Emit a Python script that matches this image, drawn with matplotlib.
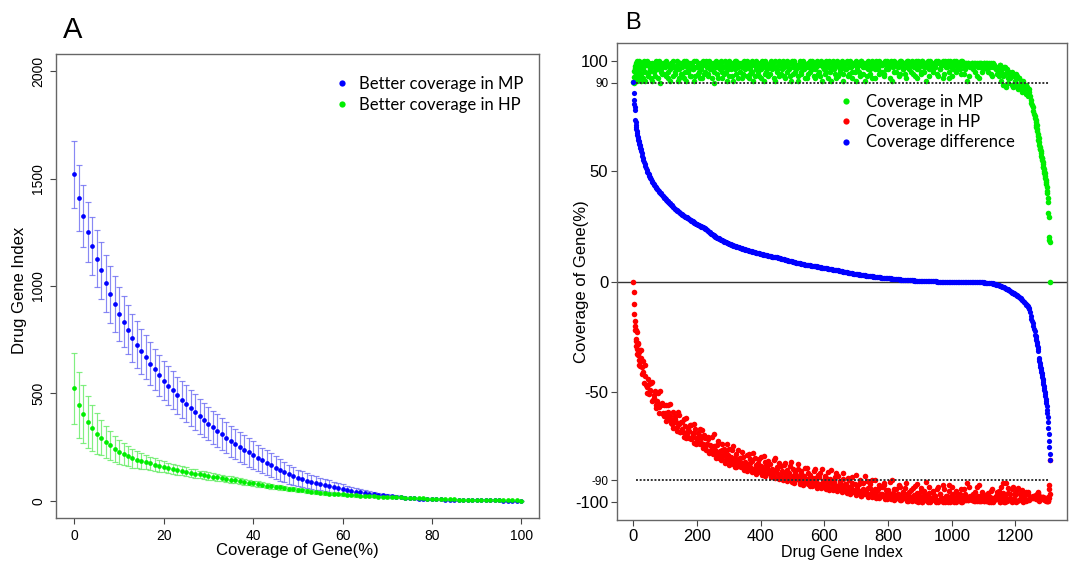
import numpy as np
import matplotlib
matplotlib.use("Agg")
import matplotlib.pyplot as plt
from matplotlib.lines import Line2D

plt.rcParams['font.family'] = ['Liberation Sans', 'DejaVu Sans']

# ============================================================
# Panel A: drug genes with better coverage, per coverage cut-off
# ============================================================
coverage_cut = list(range(0, 101))

mp_better_mean = [
    1520, 1410, 1325, 1250, 1186, 1128, 1073, 1012, 961, 915,
    871, 834, 797, 759, 727, 696, 668, 638, 612, 584,
    559, 536, 514, 491, 471, 452, 433, 413, 393, 376,
    359, 342, 326, 311, 294, 278, 264, 250, 238, 225,
    213, 200, 188, 177, 166, 155, 144, 135, 124, 115,
    106, 100, 94, 88, 83, 78, 73, 68, 63, 58,
    54, 50, 46, 42, 39, 36, 33, 30, 28, 25,
    23, 21, 19, 17, 14, 12, 11, 10, 9, 8,
    8, 7, 7, 6, 6, 5, 5, 5, 4, 4,
    3, 3, 3, 2, 2, 2, 1, 1, 1, 1, 0]
mp_better_sd = [
    155, 153, 145, 140, 137, 134, 133, 133, 132, 130,
    125, 120, 115, 112, 108, 105, 102, 99, 97, 94,
    92, 90, 88, 87, 86, 85, 83, 82, 80, 79,
    78, 77, 76, 75, 73, 72, 70, 69, 67, 66,
    64, 62, 60, 58, 56, 53, 50, 47, 45, 42,
    39, 37, 35, 33, 31, 30, 28, 27, 25, 24,
    22, 20, 19, 17, 16, 14, 13, 12, 10, 9,
    8, 7, 7, 6, 5, 5, 4, 4, 3, 3,
    3, 2, 2, 2, 2, 2, 1, 1, 1, 1,
    1, 1, 1, 1, 0, 0, 0, 0, 0, 0, 0]
hp_better_mean = [
    523, 446, 404, 367, 339, 312, 294, 273, 258, 242,
    228, 217, 208, 199, 191, 185, 179, 174, 169, 163,
    158, 153, 149, 145, 140, 135, 130, 127, 123, 119,
    115, 112, 109, 106, 102, 99, 95, 92, 88, 85,
    81, 78, 75, 71, 68, 65, 62, 59, 56, 53,
    51, 48, 45, 42, 40, 37, 36, 34, 33, 31,
    30, 28, 27, 25, 24, 23, 22, 21, 20, 20,
    19, 18, 17, 16, 15, 14, 13, 12, 11, 10,
    9, 9, 8, 8, 7, 7, 6, 6, 6, 5,
    5, 5, 4, 4, 4, 3, 3, 2, 2, 2, 1]
hp_better_sd = [
    165, 155, 137, 119, 105, 96, 82, 75, 68, 62,
    56, 52, 48, 44, 40, 36, 33, 31, 29, 27,
    26, 25, 24, 23, 22, 21, 20, 19, 18, 18,
    17, 17, 16, 16, 15, 15, 14, 14, 13, 13,
    12, 12, 11, 11, 11, 10, 10, 10, 9, 9,
    8, 8, 8, 7, 7, 7, 7, 6, 6, 6,
    6, 5, 5, 5, 5, 4, 4, 4, 4, 4,
    4, 3, 3, 3, 3, 3, 2, 2, 2, 2,
    2, 2, 2, 1, 1, 1, 1, 1, 1, 1,
    1, 1, 1, 1, 0, 0, 0, 0, 0, 0, 0]

# ============================================================
# Panel B: per-gene coverage, genes sorted by coverage difference
# (two sampled batches of genes read off the figure)
# ============================================================
# ---- batch 1
gene_index_1 = np.concatenate([np.arange(0, 24), np.arange(24, 1261, 4),
                               np.arange(1262, 1309)])

cov_mp_1 = [
    # 0-23
    90.5, 90.0, 92.4, 95.2, 96.5, 97.5, 95.0, 98, 93, 99, 96, 91,
    100, 97, 94, 98, 92, 99, 95, 100, 93, 97, 99, 91,
    # 24-1260, every 4th gene
    94, 99, 96, 91, 98, 100, 95, 97, 92, 99,
    97, 93, 100, 96, 98, 90, 95, 99, 94, 97,
    100, 92, 98, 96, 99, 93, 97, 95, 100, 91,
    96, 99, 94, 98, 92, 100, 97, 95, 99, 93,
    98, 96, 91, 100, 97, 94, 99, 96, 92, 98,
    95, 100, 97, 93, 99, 96, 98, 90, 97, 100,
    94, 98, 96, 99, 92, 97, 100, 95, 98, 93,
    99, 96, 91, 98, 100, 94, 97, 99, 95, 92,
    98, 100, 96, 93, 99, 97, 94, 100, 91, 98,
    96, 99, 95, 98, 92, 100, 97, 94, 99, 96,
    93, 98, 100, 96, 99, 91, 97, 95, 100, 98,
    94, 99, 97, 92, 98, 100, 96, 93, 99, 97,
    100, 95, 98, 91, 97, 99, 94, 100, 96, 98,
    92, 99, 97, 95, 100, 98, 93, 96, 99, 94,
    98, 100, 91, 97, 99, 95, 98, 92, 100, 96,
    97, 99, 94, 98, 100, 93, 96, 99, 97, 91,
    99, 96, 100, 94, 98, 97, 92, 99, 95, 100,
    96, 98, 93, 100, 97, 99, 91, 98, 96, 99,
    94, 100, 97, 98, 92, 99, 96, 100, 95, 98,
    99, 93, 98, 100, 96, 97, 99, 91, 98, 100,
    95, 99, 97, 94, 100, 98, 96, 99, 92, 97,
    100, 98, 95, 99, 97, 93, 100, 96, 98, 99,
    94, 100, 97, 99, 91, 98, 96, 100, 99, 95,
    98, 97, 100, 93, 99, 96, 98, 100, 94, 99,
    97, 100, 92, 98, 99, 96, 100, 95, 98, 97,
    99, 94, 100, 98, 96, 99, 91, 99, 97, 98,
    99, 96, 99, 98, 93, 99, 97, 99, 95, 99,
    98, 99, 96, 99, 97, 94, 99, 98, 97, 96,
    97, 93, 98, 95, 89, 97, 94, 96, 90, 95,
    92, 95, 88, 94, 91, 93, 87, 92, 90, 86,
    91, 88, 85, 88, 84, 86, 82, 80, 77, 75,
    # 1262-1308
    74, 72, 73, 71, 70, 71, 68, 69, 66, 67, 64, 65, 62, 63, 61, 60,
    60, 59, 58, 57, 56, 56, 55, 54, 53, 52, 52, 51, 50, 49, 49, 48,
    47, 46, 45, 44, 43, 41, 40, 38, 36, 31, 29, 20, 19, 18, 0]

cov_hp_1 = [
    # 0-23
    0.0, 4.8, 10.1, 14.7, 17.7, 20.0, 22.0, 26.0, 22.0, 29.0, 27.0, 22.9,
    32.8, 30.6, 28.4, 33.1, 27.8, 35.4, 32.0, 37.6, 31.2, 35.8, 38.4, 31.0,
    # 24-1260, every 4th gene
    34.7, 42.0, 41.0, 38.0, 46.8, 50.4, 46.5, 49.6, 45.8, 54.0,
    52.9, 49.7, 57.5, 54.3, 57.0, 49.7, 55.4, 60.1, 55.8, 59.4,
    63.0, 55.7, 62.3, 60.9, 64.5, 59.1, 63.7, 62.2, 67.7, 59.2,
    64.7, 68.2, 63.6, 68.0, 62.4, 70.7, 68.0, 66.4, 70.8, 65.2,
    70.6, 69.0, 64.4, 73.8, 71.1, 68.4, 73.7, 71.0, 67.2, 73.5,
    70.9, 76.3, 73.8, 70.3, 76.8, 74.3, 76.7, 69.1, 76.5, 79.9,
    74.2, 78.5, 76.8, 80.1, 73.4, 78.7, 82.0, 77.3, 80.5, 75.8,
    82.0, 79.3, 74.5, 81.8, 84.0, 78.2, 81.4, 83.6, 79.8, 77.0,
    83.2, 85.4, 81.6, 78.7, 84.9, 83.1, 80.2, 86.4, 77.6, 84.7,
    82.9, 86.0, 82.2, 85.3, 79.5, 87.6, 84.8, 81.9, 87.1, 84.2,
    81.4, 86.5, 88.6, 84.7, 87.8, 79.9, 86.0, 84.1, 89.3, 87.4,
    83.6, 88.8, 86.9, 82.1, 88.2, 90.4, 86.5, 83.7, 89.8, 88.0,
    91.1, 86.3, 89.4, 82.6, 88.7, 90.8, 86.0, 92.1, 88.2, 90.3,
    84.4, 91.5, 89.6, 87.7, 92.8, 90.9, 86.0, 89.1, 92.2, 87.4,
    91.5, 93.6, 84.7, 90.8, 92.9, 89.0, 92.1, 86.2, 94.3, 90.4,
    91.5, 93.6, 88.7, 92.8, 94.9, 88.0, 91.1, 94.2, 92.4, 86.5,
    94.7, 91.8, 95.9, 90.0, 94.1, 93.2, 88.3, 95.4, 91.5, 96.6,
    92.7, 94.8, 89.9, 97.0, 94.1, 96.2, 88.2, 95.3, 93.4, 96.5,
    91.5, 97.6, 94.7, 95.8, 89.8, 96.9, 94.0, 98.0, 93.1, 96.2,
    97.2, 91.3, 96.4, 98.4, 94.5, 95.6, 97.6, 89.7, 96.7, 98.8,
    93.9, 97.9, 96.0, 93.0, 99.1, 97.1, 95.2, 98.2, 91.3, 96.3,
    99.4, 97.4, 94.5, 98.5, 96.5, 92.6, 99.6, 95.6, 97.7, 98.7,
    93.7, 99.7, 96.8, 98.8, 90.8, 97.8, 95.8, 99.9, 98.9, 94.9,
    97.9, 96.9, 99.9, 93.0, 99.0, 96.0, 98.0, 100.0, 94.0, 99.0,
    97.0, 100.0, 92.0, 98.0, 99.0, 96.0, 100.0, 95.0, 98.0, 97.0,
    99.0, 94.0, 100.0, 98.0, 96.0, 99.1, 91.1, 99.1, 97.1, 98.1,
    99.1, 96.1, 99.2, 98.2, 93.2, 99.2, 97.3, 99.3, 95.4, 99.4,
    98.5, 99.5, 96.6, 99.7, 97.7, 94.8, 99.9, 99.0, 98.2, 97.4,
    98.6, 94.8, 100.0, 97.2, 91.4, 99.7, 97.0, 99.3, 93.6, 99.0,
    96.4, 99.8, 93.1, 99.5, 96.8, 99.2, 93.6, 99.0, 97.6, 94.2,
    99.8, 97.4, 95.1, 98.8, 95.5, 98.5, 97.5, 98.0, 97.0, 97.5,
    # 1262-1308
    98.0, 96.6, 98.3, 97.0, 96.7, 98.4, 96.0, 97.8, 95.6, 97.4, 95.3, 99.5,
    97.3, 99.1, 97.9, 97.7, 98.5, 98.2, 98.0, 97.8, 97.5, 98.3, 98.1, 98.0,
    97.8, 97.7, 98.5, 98.4, 98.3, 98.2, 99.1, 99.0, 99.0, 99.0, 99.0, 99.2,
    99.5, 99.0, 99.5, 99.5, 99.5, 97.5, 98.0, 92.0, 94.0, 96.0, 81.0]

cov_diff_1 = [
    # 0-23
    90.5, 85.2, 82.3, 80.5, 78.8, 77.5, 73.0, 72.0, 71.0, 70.0, 69.0, 68.1,
    67.2, 66.4, 65.6, 64.9, 64.2, 63.6, 63.0, 62.4, 61.8, 61.2, 60.6, 60.0,
    # 24-1260, every 4th gene
    59.3, 57.0, 55.0, 53.0, 51.2, 49.6, 48.5, 47.4, 46.2, 45.0,
    44.1, 43.3, 42.5, 41.7, 41.0, 40.3, 39.6, 38.9, 38.2, 37.6,
    37.0, 36.3, 35.7, 35.1, 34.5, 33.9, 33.3, 32.8, 32.3, 31.8,
    31.3, 30.8, 30.4, 30.0, 29.6, 29.3, 29.0, 28.6, 28.2, 27.8,
    27.4, 27.0, 26.6, 26.2, 25.9, 25.6, 25.3, 25.0, 24.8, 24.5,
    24.1, 23.7, 23.2, 22.7, 22.2, 21.7, 21.3, 20.9, 20.5, 20.1,
    19.8, 19.5, 19.2, 18.9, 18.6, 18.3, 18.0, 17.7, 17.5, 17.2,
    17.0, 16.7, 16.5, 16.2, 16.0, 15.8, 15.6, 15.4, 15.2, 15.0,
    14.8, 14.6, 14.4, 14.3, 14.1, 13.9, 13.8, 13.6, 13.4, 13.3,
    13.1, 13.0, 12.8, 12.7, 12.5, 12.4, 12.2, 12.1, 11.9, 11.8,
    11.6, 11.5, 11.4, 11.3, 11.2, 11.1, 11.0, 10.9, 10.7, 10.6,
    10.4, 10.2, 10.1, 9.9, 9.8, 9.6, 9.5, 9.3, 9.2, 9.0,
    8.9, 8.7, 8.6, 8.4, 8.3, 8.2, 8.0, 7.9, 7.8, 7.7,
    7.6, 7.5, 7.4, 7.3, 7.2, 7.1, 7.0, 6.9, 6.8, 6.6,
    6.5, 6.4, 6.3, 6.2, 6.1, 6.0, 5.9, 5.8, 5.7, 5.6,
    5.5, 5.4, 5.3, 5.2, 5.1, 5.0, 4.9, 4.8, 4.6, 4.5,
    4.3, 4.2, 4.1, 4.0, 3.9, 3.8, 3.7, 3.6, 3.5, 3.4,
    3.3, 3.2, 3.1, 3.0, 2.9, 2.8, 2.8, 2.7, 2.6, 2.5,
    2.5, 2.4, 2.3, 2.2, 2.2, 2.1, 2.0, 2.0, 1.9, 1.8,
    1.8, 1.7, 1.6, 1.6, 1.5, 1.4, 1.4, 1.3, 1.3, 1.2,
    1.1, 1.1, 1.0, 1.0, 0.9, 0.9, 0.8, 0.8, 0.7, 0.7,
    0.6, 0.6, 0.5, 0.5, 0.5, 0.4, 0.4, 0.4, 0.3, 0.3,
    0.3, 0.3, 0.2, 0.2, 0.2, 0.2, 0.2, 0.1, 0.1, 0.1,
    0.1, 0.1, 0.1, 0.0, 0.0, 0.0, 0.0, 0.0, 0.0, 0.0,
    0.0, 0.0, 0.0, 0.0, 0.0, 0.0, 0.0, 0.0, 0.0, 0.0,
    0.0, 0.0, 0.0, 0.0, 0.0, -0.1, -0.1, -0.1, -0.1, -0.1,
    -0.1, -0.1, -0.2, -0.2, -0.2, -0.2, -0.3, -0.3, -0.4, -0.4,
    -0.5, -0.5, -0.6, -0.7, -0.7, -0.8, -0.9, -1.0, -1.2, -1.4,
    -1.6, -1.8, -2.0, -2.2, -2.4, -2.7, -3.0, -3.3, -3.6, -4.0,
    -4.4, -4.8, -5.1, -5.5, -5.8, -6.2, -6.6, -7.0, -7.6, -8.2,
    -8.8, -9.4, -10.1, -10.8, -11.5, -12.5, -15.5, -18.0, -20.0, -22.5,
    # 1262-1308
    -24.0, -24.6, -25.3, -26.0, -26.7, -27.4, -28.0, -28.8, -29.6, -30.4,
    -31.3, -34.5, -35.3, -36.1, -36.9, -37.7, -38.5, -39.2, -40.0, -40.8,
    -41.5, -42.3, -43.1, -44.0, -44.8, -45.7, -46.5, -47.4, -48.3, -49.2,
    -50.1, -51.0, -52.0, -53.0, -54.0, -55.2, -56.5, -58.0, -59.5, -61.5,
    -63.5, -66.5, -69.0, -72.0, -75.0, -78.0, -81.0]

# ---- batch 2 (genes 26, 30, ..., 1258)
gene_index_2 = np.arange(26, 1259, 4)

cov_mp_2 = [
    97, 92, 100, 95, 98, 93, 99, 96, 91, 98,
    95, 99, 97, 92, 100, 96, 94, 98, 99, 93,
    98, 95, 91, 99, 97, 100, 94, 96, 98, 92,
    99, 94, 97, 100, 95, 91, 98, 96, 93, 99,
    96, 100, 93, 97, 99, 95, 92, 98, 100, 94,
    99, 97, 94, 100, 96, 92, 99, 95, 98, 97,
    92, 99, 100, 95, 97, 94, 98, 91, 96, 100,
    97, 93, 99, 96, 100, 98, 92, 95, 99, 97,
    94, 99, 97, 100, 92, 96, 98, 95, 99, 93,
    100, 97, 93, 99, 96, 98, 91, 100, 95, 97,
    98, 94, 99, 97, 92, 100, 96, 98, 93, 99,
    96, 100, 93, 98, 95, 97, 99, 91, 100, 94,
    99, 96, 98, 93, 100, 95, 97, 99, 92, 98,
    97, 94, 100, 98, 96, 99, 92, 97, 100, 95,
    93, 98, 99, 96, 94, 100, 97, 99, 95, 91,
    100, 96, 98, 92, 99, 97, 95, 100, 94, 98,
    96, 99, 93, 97, 100, 95, 98, 99, 91, 97,
    99, 95, 100, 98, 94, 97, 99, 93, 100, 96,
    98, 92, 99, 96, 100, 97, 94, 99, 98, 95,
    94, 100, 96, 98, 99, 92, 100, 97, 95, 99,
    99, 97, 93, 100, 98, 96, 99, 94, 100, 97,
    96, 99, 100, 94, 98, 99, 92, 100, 97, 95,
    100, 98, 95, 99, 97, 100, 93, 98, 99, 96,
    97, 99, 94, 100, 96, 98, 99, 92, 100, 97,
    99, 95, 100, 97, 93, 99, 98, 100, 96, 98,
    96, 100, 98, 94, 99, 97, 99, 93, 98, 99,
    98, 99, 95, 99, 97, 92, 99, 98, 96, 99,
    97, 99, 95, 98, 99, 93, 97, 98, 96, 94,
    95, 98, 91, 96, 93, 97, 88, 95, 92, 94,
    94, 89, 93, 90, 94, 88, 92, 89, 91, 87,
    89, 87, 89, 85, 87, 84, 81, 79, 76]

cov_hp_2 = [
    38.9, 36.0, 46.0, 42.9, 47.6, 44.0, 51.1, 49.2, 45.4, 53.5,
    51.3, 56.1, 54.9, 50.7, 59.4, 56.1, 54.8, 59.5, 61.1, 55.7,
    61.4, 59.0, 55.6, 64.2, 62.8, 66.4, 61.0, 63.5, 66.0, 60.5,
    68.0, 63.4, 66.8, 70.2, 65.6, 61.9, 69.2, 67.6, 65.0, 71.4,
    68.8, 73.2, 66.6, 71.0, 73.3, 69.6, 66.9, 73.1, 75.4, 69.7,
    75.1, 73.6, 71.1, 77.6, 74.1, 70.5, 77.9, 74.3, 77.7, 77.1,
    72.4, 79.7, 81.0, 76.3, 78.6, 75.9, 80.2, 73.4, 78.7, 82.9,
    80.2, 76.4, 82.7, 79.9, 84.1, 82.3, 76.5, 79.7, 83.9, 82.1,
    79.3, 84.5, 82.7, 85.8, 78.0, 82.2, 84.3, 81.5, 85.7, 79.8,
    87.0, 84.1, 80.3, 86.4, 83.6, 85.7, 78.9, 88.0, 83.2, 85.3,
    86.5, 82.6, 87.7, 85.8, 80.9, 89.0, 85.1, 87.2, 82.4, 88.5,
    85.7, 89.9, 83.0, 88.2, 85.3, 87.5, 89.6, 81.8, 90.9, 85.1,
    90.2, 87.4, 89.5, 84.7, 91.8, 86.9, 89.1, 91.2, 84.3, 90.4,
    89.5, 86.6, 92.7, 90.8, 88.9, 92.0, 85.1, 90.2, 93.3, 88.5,
    86.6, 91.7, 92.8, 89.9, 88.0, 94.1, 91.2, 93.3, 89.4, 85.5,
    94.6, 90.7, 92.8, 86.9, 94.0, 92.1, 90.2, 95.3, 89.5, 93.6,
    91.8, 94.9, 89.0, 93.1, 96.2, 91.3, 94.4, 95.5, 87.6, 93.7,
    95.8, 91.9, 97.0, 95.1, 91.2, 94.2, 96.3, 90.4, 97.5, 93.5,
    95.6, 89.7, 96.8, 93.8, 97.9, 95.0, 92.0, 97.1, 96.2, 93.2,
    92.3, 98.4, 94.4, 96.5, 97.6, 90.6, 98.7, 95.7, 93.8, 97.9,
    97.9, 96.0, 92.0, 99.1, 97.1, 95.2, 98.2, 93.3, 99.3, 96.4,
    95.4, 98.5, 99.5, 93.5, 97.6, 98.6, 91.6, 99.7, 96.7, 94.7,
    99.7, 97.8, 94.8, 98.8, 96.8, 99.8, 92.9, 97.9, 98.9, 95.9,
    96.9, 98.9, 94.0, 100.0, 96.0, 98.0, 99.0, 92.0, 100.0, 97.0,
    99.0, 95.0, 100.0, 97.0, 93.0, 99.0, 98.0, 100.0, 96.0, 98.0,
    96.0, 100.0, 98.0, 94.0, 99.1, 97.1, 99.1, 93.1, 98.1, 99.1,
    98.1, 99.2, 95.2, 99.2, 97.2, 92.3, 99.3, 98.4, 96.4, 99.5,
    97.5, 99.6, 95.7, 98.7, 99.8, 93.9, 98.0, 99.1, 97.3, 95.5,
    96.7, 99.9, 93.1, 98.3, 95.6, 99.9, 91.2, 98.5, 95.8, 98.2,
    98.6, 94.0, 98.3, 95.7, 100.0, 94.4, 98.8, 96.3, 98.9, 95.5,
    98.1, 96.8, 99.5, 96.2, 99.0, 98.0, 97.8, 98.0, 97.3]

cov_diff_2 = [
    58.1, 56.0, 54.0, 52.1, 50.4, 49.0, 47.9, 46.8, 45.6, 44.5,
    43.7, 42.9, 42.1, 41.3, 40.6, 39.9, 39.2, 38.5, 37.9, 37.3,
    36.6, 36.0, 35.4, 34.8, 34.2, 33.6, 33.0, 32.5, 32.0, 31.5,
    31.0, 30.6, 30.2, 29.8, 29.4, 29.1, 28.8, 28.4, 28.0, 27.6,
    27.2, 26.8, 26.4, 26.0, 25.7, 25.4, 25.1, 24.9, 24.6, 24.3,
    23.9, 23.4, 22.9, 22.4, 21.9, 21.5, 21.1, 20.7, 20.3, 19.9,
    19.6, 19.3, 19.0, 18.7, 18.4, 18.1, 17.8, 17.6, 17.3, 17.1,
    16.8, 16.6, 16.3, 16.1, 15.9, 15.7, 15.5, 15.3, 15.1, 14.9,
    14.7, 14.5, 14.3, 14.2, 14.0, 13.8, 13.7, 13.5, 13.3, 13.2,
    13.0, 12.9, 12.7, 12.6, 12.4, 12.3, 12.1, 12.0, 11.8, 11.7,
    11.5, 11.4, 11.3, 11.2, 11.1, 11.0, 10.9, 10.8, 10.6, 10.5,
    10.3, 10.1, 10.0, 9.8, 9.7, 9.5, 9.4, 9.2, 9.1, 8.9,
    8.8, 8.6, 8.5, 8.3, 8.2, 8.1, 7.9, 7.8, 7.7, 7.6,
    7.5, 7.4, 7.3, 7.2, 7.1, 7.0, 6.9, 6.8, 6.7, 6.5,
    6.4, 6.3, 6.2, 6.1, 6.0, 5.9, 5.8, 5.7, 5.6, 5.5,
    5.4, 5.3, 5.2, 5.1, 5.0, 4.9, 4.8, 4.7, 4.5, 4.4,
    4.2, 4.1, 4.0, 3.9, 3.8, 3.7, 3.6, 3.5, 3.4, 3.3,
    3.2, 3.1, 3.0, 2.9, 2.8, 2.8, 2.7, 2.6, 2.5, 2.5,
    2.4, 2.3, 2.2, 2.2, 2.1, 2.0, 2.0, 1.9, 1.8, 1.8,
    1.7, 1.6, 1.6, 1.5, 1.4, 1.4, 1.3, 1.3, 1.2, 1.1,
    1.1, 1.0, 1.0, 0.9, 0.9, 0.8, 0.8, 0.7, 0.7, 0.6,
    0.6, 0.5, 0.5, 0.5, 0.4, 0.4, 0.4, 0.3, 0.3, 0.3,
    0.3, 0.2, 0.2, 0.2, 0.2, 0.2, 0.1, 0.1, 0.1, 0.1,
    0.1, 0.1, 0.0, 0.0, 0.0, 0.0, 0.0, 0.0, 0.0, 0.0,
    0.0, 0.0, 0.0, 0.0, 0.0, 0.0, 0.0, 0.0, 0.0, 0.0,
    0.0, 0.0, 0.0, 0.0, -0.1, -0.1, -0.1, -0.1, -0.1, -0.1,
    -0.1, -0.2, -0.2, -0.2, -0.2, -0.3, -0.3, -0.4, -0.4, -0.5,
    -0.5, -0.6, -0.7, -0.7, -0.8, -0.9, -1.0, -1.1, -1.3, -1.5,
    -1.7, -1.9, -2.1, -2.3, -2.6, -2.9, -3.2, -3.5, -3.8, -4.2,
    -4.6, -5.0, -5.3, -5.7, -6.0, -6.4, -6.8, -7.3, -7.9, -8.5,
    -9.1, -9.8, -10.5, -11.2, -12.0, -14.0, -16.8, -19.0, -21.3]

assert len(cov_mp_1) == len(cov_hp_1) == len(cov_diff_1) == len(gene_index_1)
assert len(cov_mp_2) == len(cov_hp_2) == len(cov_diff_2) == len(gene_index_2)

gene_index = np.concatenate([gene_index_1, gene_index_2])
cov_mp = np.concatenate([cov_mp_1, cov_mp_2])
cov_hp = np.concatenate([cov_hp_1, cov_hp_2])
cov_diff = np.concatenate([cov_diff_1, cov_diff_2])

BLUE, GREEN, RED = '#0000ff', '#00ee00', '#ff0000'
LEGEND_FONT = {'family': ['Lato', 'DejaVu Sans'], 'size': 12}


def style_axes(ax):
    for sp in ax.spines.values():
        sp.set_color('#666666')
        sp.set_linewidth(1.0)
    ax.tick_params(direction='out', length=4, width=0.8, color='#444444')


fig = plt.figure(figsize=(10.72, 5.62), dpi=100)

# ---------------- Panel A ----------------
axA = fig.add_axes([0.0527, 0.0783, 0.4503, 0.8256])
axA.errorbar(coverage_cut, mp_better_mean, yerr=mp_better_sd, fmt='none',
             ecolor=(0.42, 0.42, 0.95, 0.8), elinewidth=0.85, capsize=2, capthick=0.85)
axA.plot(coverage_cut, mp_better_mean, 'o', color=BLUE, ms=3.4, mec='none')
axA.errorbar(coverage_cut, hp_better_mean, yerr=hp_better_sd, fmt='none',
             ecolor=(0.42, 0.93, 0.42, 0.85), elinewidth=0.85, capsize=2, capthick=0.85)
axA.plot(coverage_cut, hp_better_mean, 'o', color=GREEN, ms=3.4, mec='none')

axA.set_xlim(-4, 104)
axA.set_ylim(-80, 2080)
axA.set_xticks(range(0, 101, 20))
axA.set_yticks(range(0, 2001, 500))
style_axes(axA)
axA.tick_params(axis='both', labelsize=10, pad=4)
for lab in axA.get_yticklabels():
    lab.set_rotation(90)
    lab.set_va('center')
axA.set_xlabel('Coverage of Gene(%)', fontsize=12)
axA.xaxis.set_label_coords(0.5, -0.053)
axA.set_ylabel('Drug Gene Index', fontsize=12)
axA.yaxis.set_label_coords(-0.061, 0.49)

handlesA = [Line2D([], [], ls='none', marker='o', ms=4.5, color=BLUE, mec='none'),
            Line2D([], [], ls='none', marker='o', ms=4.5, color=GREEN, mec='none')]
axA.legend(handlesA, ['Better coverage in MP', 'Better coverage in HP'],
           loc='upper left', bbox_to_anchor=(0.575, 0.952), frameon=False,
           prop=LEGEND_FONT, handlelength=1.0, handletextpad=0.5,
           labelspacing=0.3, borderaxespad=0, borderpad=0)

# ---------------- Panel B ----------------
axB = fig.add_axes([0.5753, 0.0747, 0.4198, 0.8488])
axB.axhline(0, color='#333333', lw=1.0, zorder=1)
axB.scatter(gene_index, cov_mp, s=16, color=GREEN, linewidths=0, zorder=2)
axB.scatter(gene_index, -cov_hp, s=16, color=RED, linewidths=0, zorder=2)
axB.scatter(gene_index, cov_diff, s=14, color=BLUE, linewidths=0, zorder=3)
axB.hlines([90, -90], 10, 1305, colors='#333333', linestyles=(0, (1, 0.9)),
           lw=1.4, zorder=4)

axB.set_xlim(-52, 1361)
axB.set_ylim(-108, 108)
axB.set_xticks(range(0, 1201, 200))
ytick_vals = [100, 90, 50, 0, -50, -90, -100]
axB.set_yticks(ytick_vals)
axB.set_yticklabels(['100', '90', '50', '0', '-50', '-90', '-100'])
style_axes(axB)
axB.tick_params(axis='both', labelsize=12)
axB.tick_params(axis='x', pad=2.5)
axB.tick_params(axis='y', pad=2)
for v, lab in zip(ytick_vals, axB.get_yticklabels()):
    if abs(v) == 90:
        lab.set_fontsize(8.5)
axB.set_xlabel('Drug Gene Index', fontsize=11.5)
axB.xaxis.set_label_coords(0.5, -0.052)
axB.set_ylabel('Coverage of Gene(%)', fontsize=12)
axB.yaxis.set_label_coords(-0.062, 0.5)

handlesB = [Line2D([], [], ls='none', marker='o', ms=4.5, color=GREEN, mec='none'),
            Line2D([], [], ls='none', marker='o', ms=4.5, color=RED, mec='none'),
            Line2D([], [], ls='none', marker='o', ms=4.5, color=BLUE, mec='none')]
axB.legend(handlesB, ['Coverage in MP', 'Coverage in HP', 'Coverage difference'],
           loc='upper left', bbox_to_anchor=(0.492, 0.893), frameon=False,
           prop=LEGEND_FONT, handlelength=1.0, handletextpad=0.7,
           labelspacing=0.25, borderaxespad=0, borderpad=0)

# panel letters
fig.text(0.0588, 0.9324, 'A', fontsize=21, ha='left', va='baseline')
fig.text(0.583, 0.948, 'B', fontsize=17, ha='left', va='baseline')

fig.savefig('out.png', dpi=100)
